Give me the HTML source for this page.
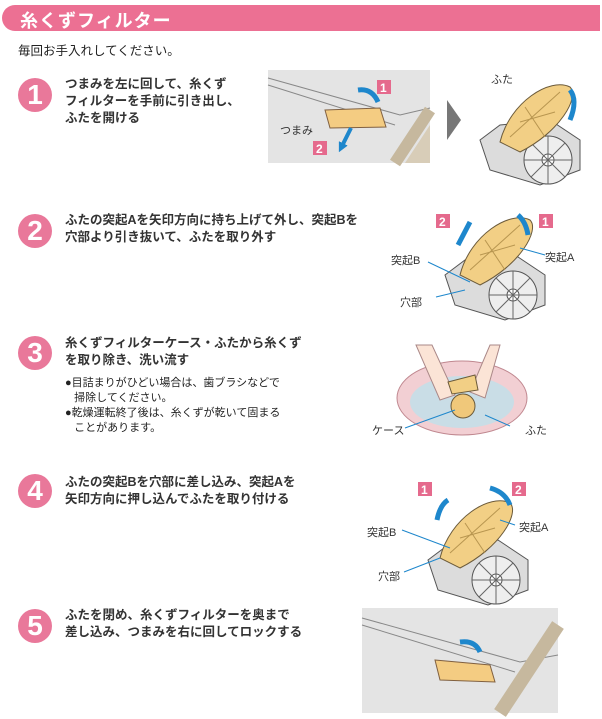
<!DOCTYPE html>
<html><head><meta charset="utf-8"><style>
body{margin:0;width:602px;height:719px;background:#fff;position:relative;overflow:hidden;font-family:"Liberation Sans","Noto Sans CJK JP",sans-serif;color:#222}
.hdr{position:absolute;left:2px;top:5px;width:598px;height:26px;background:#ec7093;border-radius:13px 0 0 13px}
.hdr span{position:absolute;left:18px;top:2px;color:#fff;font-weight:bold;font-size:18px;letter-spacing:1px}
.sub{position:absolute;left:18px;top:40px;font-size:12.5px}
.num{position:absolute;left:18px;width:34px;height:34px;border-radius:50%;background:#e9789a;color:#fff;font-size:28px;text-align:center;line-height:34px;font-weight:bold}
.t{position:absolute;left:65px;font-size:12.5px;font-weight:bold;line-height:17px;color:#333}
.n{position:absolute;left:65px;font-size:11px;line-height:15px}
.lb{position:absolute;font-size:11px;color:#333}
svg{position:absolute;left:0;top:0}
</style></head><body>
<div class="hdr"><span>糸くずフィルター</span></div>
<div class="sub">毎回お手入れしてください。</div>

<div class="num" style="top:78px">1</div>
<div class="t" style="top:76px">つまみを左に回して、糸くず<br>フィルターを手前に引き出し、<br>ふたを開ける</div>
<div class="num" style="top:214px">2</div>
<div class="t" style="top:212px">ふたの突起Aを矢印方向に持ち上げて外し、突起Bを<br>穴部より引き抜いて、ふたを取り外す</div>
<div class="num" style="top:336px">3</div>
<div class="t" style="top:335px">糸くずフィルターケース・ふたから糸くず<br>を取り除き、洗い流す</div>
<div class="n" style="top:376px">●目詰まりがひどい場合は、歯ブラシなどで<br>&nbsp;&nbsp;&nbsp;掃除してください。<br>●乾燥運転終了後は、糸くずが乾いて固まる<br>&nbsp;&nbsp;&nbsp;ことがあります。</div>
<div class="num" style="top:474px">4</div>
<div class="t" style="top:474px">ふたの突起Bを穴部に差し込み、突起Aを<br>矢印方向に押し込んでふたを取り付ける</div>
<div class="num" style="top:609px">5</div>
<div class="t" style="top:607px">ふたを閉め、糸くずフィルターを奥まで<br>差し込み、つまみを右に回してロックする</div>

<svg width="602" height="719">
<defs>
<g id="dev">
 <path d="M0,40 L20,25 L70,20 L100,40 L100,70 L60,85 L10,70 Z" fill="#dcdcdc" stroke="#555" stroke-width="1"/>
 <circle cx="68" cy="60" r="24" fill="#eee" stroke="#555"/>
 <circle cx="68" cy="60" r="6" fill="#fff" stroke="#555"/>
 <path d="M68,36V84M44,60H92M51,43L85,77M85,43L51,77" stroke="#666"/>
</g>
<g id="lid">
 <path d="M0,60 C10,20 50,-5 70,5 C80,15 60,50 20,70 Z" fill="#f2cf85" stroke="#6b5a3a"/>
 <path d="M10,55L60,10M20,40L55,30M25,25L45,55" stroke="#b89650"/>
</g>
<marker id="ah" markerUnits="userSpaceOnUse" markerWidth="10" markerHeight="10" refX="3" refY="5" orient="auto"><path d="M0,0L10,5L0,10Z" fill="#1e87cc"/></marker>
</defs>
<rect x="268" y="70" width="162" height="93" fill="#e4e4e4"/>
<path d="M268,78 L400,115 L430,108" stroke="#888" fill="none"/>
<path d="M268,85 L395,125" stroke="#888" fill="none"/>
<path d="M405,163 L430,125 L430,163Z" fill="#d8cdb8"/>
<path d="M395,163 L430,110" stroke="#c6b89e" stroke-width="12"/>
<path d="M325,110 L380,108 L386,127 L330,128 Z" fill="#f4cc82" stroke="#806040"/>
<path d="M358,90 Q372,88 378,102" stroke="#1e87cc" stroke-width="5" fill="none"/>
<path d="M351,128 L342,146" stroke="#1e87cc" stroke-width="4" marker-end="url(#ah)"/>
<rect x="377" y="80" width="14" height="14" fill="#e56a8d"/><text x="380" y="92" fill="#fff" font-size="12" font-weight="bold" font-family="Liberation Sans">1</text>
<rect x="313" y="141" width="14" height="14" fill="#e56a8d"/><text x="316" y="153" fill="#fff" font-size="12" font-weight="bold" font-family="Liberation Sans">2</text>
<path d="M447,100 L461,120 L447,140Z" fill="#777"/>
<g transform="translate(480,100)"><use href="#dev"/></g>
<g transform="translate(500,82)"><use href="#lid"/></g>
<path d="M570,120 Q578,100 570,90" stroke="#1e87cc" stroke-width="5" fill="none"/>
<g transform="translate(445,235)"><use href="#dev"/></g>
<g transform="translate(460,215)"><use href="#lid"/></g>
<path d="M458,245 L470,222" stroke="#1e87cc" stroke-width="5"/>
<path d="M528,235 Q526,222 518,215" stroke="#1e87cc" stroke-width="5" fill="none"/>
<rect x="436" y="214" width="14" height="14" fill="#e56a8d"/><text x="439" y="226" fill="#fff" font-size="12" font-weight="bold" font-family="Liberation Sans">2</text>
<rect x="539" y="214" width="14" height="14" fill="#e56a8d"/><text x="542" y="226" fill="#fff" font-size="12" font-weight="bold" font-family="Liberation Sans">1</text>
<path d="M428,262 L470,282M436,297 L465,290M545,255 L520,248" stroke="#1e87cc"/>
<ellipse cx="462" cy="398" rx="65" ry="37" fill="#f2cfd3" stroke="#c08890"/>
<ellipse cx="462" cy="402" rx="52" ry="26" fill="#c9dde6"/>
<path d="M416,345 L432,345 L455,395 L440,400Z M500,345 L490,345 L470,392 L485,398Z" fill="#fbe4d6" stroke="#a88"/>
<circle cx="463" cy="406" r="12" fill="#f0c87a" stroke="#6b5a3a"/>
<path d="M448,382 L475,375 L478,390 L452,394Z" fill="#f2cf85" stroke="#6b5a3a"/>
<path d="M405,428 L455,410M510,426 L485,415" stroke="#1e87cc"/>
<g transform="translate(428,520)"><use href="#dev"/></g>
<g transform="translate(440,498)"><use href="#lid"/></g>
<path d="M448,500 Q440,505 437,520" stroke="#1e87cc" stroke-width="5" fill="none"/>
<path d="M490,488 Q505,492 510,505" stroke="#1e87cc" stroke-width="5" fill="none"/>
<rect x="418" y="482" width="14" height="14" fill="#e56a8d"/><text x="421" y="494" fill="#fff" font-size="12" font-weight="bold" font-family="Liberation Sans">1</text>
<rect x="512" y="482" width="14" height="14" fill="#e56a8d"/><text x="515" y="494" fill="#fff" font-size="12" font-weight="bold" font-family="Liberation Sans">2</text>
<path d="M402,530 L450,548M404,572 L440,558M515,525 L500,520" stroke="#1e87cc"/>
<rect x="362" y="608" width="196" height="105" fill="#e4e4e4"/>
<path d="M362,618 L520,662 L558,655" stroke="#888" fill="none"/>
<path d="M362,625 L515,672" stroke="#888" fill="none"/>
<path d="M500,713 L558,625" stroke="#c6b89e" stroke-width="14"/>
<path d="M435,660 L490,665 L495,682 L440,680Z" fill="#f4cc82" stroke="#806040"/>
<path d="M460,642 Q475,640 480,652" stroke="#1e87cc" stroke-width="5" fill="none"/>
</svg>
<div class="lb" style="left:280px;top:122px">つまみ</div>
<div class="lb" style="left:491px;top:71px">ふた</div>
<div class="lb" style="left:391px;top:252px">突起B</div>
<div class="lb" style="left:545px;top:249px">突起A</div>
<div class="lb" style="left:400px;top:294px">穴部</div>
<div class="lb" style="left:372px;top:422px">ケース</div>
<div class="lb" style="left:525px;top:422px">ふた</div>
<div class="lb" style="left:367px;top:524px">突起B</div>
<div class="lb" style="left:519px;top:519px">突起A</div>
<div class="lb" style="left:378px;top:568px">穴部</div>
</body></html>
